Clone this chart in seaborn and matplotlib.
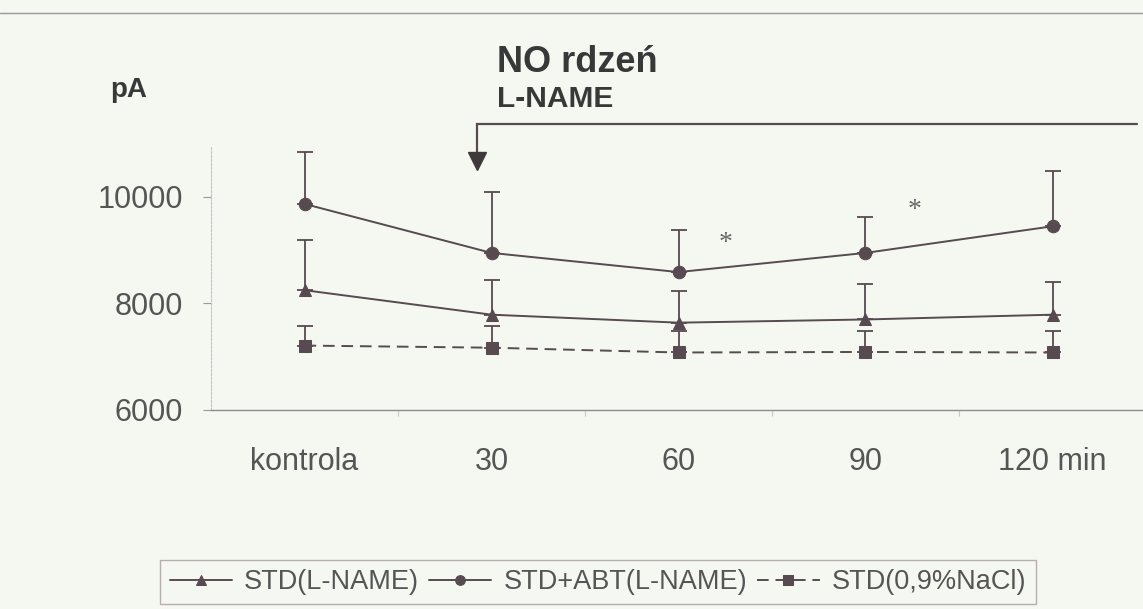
import numpy as np
import pandas as pd
import matplotlib
matplotlib.use("Agg")
import matplotlib.pyplot as plt
from matplotlib.lines import Line2D
import seaborn as sns

# --- data -------------------------------------------------------------
categories = ["kontrola", "30", "60", "90", "120"]
tick_labels = ["kontrola", "30", "60", "90", "120 min"]
series_names = ["STD(L-NAME)", "STD+ABT(L-NAME)", "STD(0,9%NaCl)"]

std_lname = [8250, 7790, 7640, 7700, 7790]
std_lname_sd = [940, 650, 600, 670, 610]
std_abt = [9870, 8950, 8590, 8950, 9450]
std_abt_sd = [970, 1140, 790, 670, 1030]
std_nacl = [7210, 7170, 7080, 7090, 7080]
std_nacl_sd = [360, 400, 410, 400, 410]

y_ticks = [6000, 8000, 10000]

# --- styling ----------------------------------------------------------
BG = "#f5f7f1"
INK = "#574a50"
TICK_TXT = "#555555"
TITLE_TXT = "#383838"

sns.set_theme(style="white")
plt.rcParams["font.family"] = ["Liberation Sans", "DejaVu Sans"]

means = [std_lname, std_abt, std_nacl]
sds = [std_lname_sd, std_abt_sd, std_nacl_sd]
pos = np.arange(len(categories))

df = pd.DataFrame({
    "pos": np.tile(pos, len(series_names)),
    "value": np.concatenate(means),
    "series": np.repeat(series_names, len(categories)),
})

fig = plt.figure(figsize=(11.43, 6.09), dpi=100, facecolor=BG)
ax = fig.add_axes([211 / 1143, 1 - 410 / 609, (1143 - 211) / 1143, (410 - 143.75) / 609])
ax.set_facecolor(BG)

markers = {series_names[0]: "^", series_names[1]: "o", series_names[2]: "s"}
dashes = {series_names[0]: "", series_names[1]: "", series_names[2]: (6, 3.5)}
sns.lineplot(data=df, x="pos", y="value", hue="series", style="series",
             hue_order=series_names, style_order=series_names,
             palette=[INK] * 3, markers=markers, dashes=dashes,
             markersize=9, markeredgecolor=INK, linewidth=1.4,
             ax=ax, legend=True, zorder=3)

# upward standard deviation bars
for m, s in zip(means, sds):
    ax.errorbar(pos, m, yerr=[np.zeros(len(s)), s], fmt="none",
                ecolor=INK, elinewidth=1.3, capsize=5.8, capthick=1.3, zorder=2)

# axes
ax.set_xlim(-0.5, (1143 - 304.5) / 187)
ax.set_ylim(6000, 11000)
ax.set_yticks(y_ticks)
ax.set_yticklabels([str(v) for v in y_ticks])
ax.set_xticks(pos)
ax.set_xticklabels(tick_labels)
ax.set_xticks(pos[:-1] + 0.5, minor=True)
ax.set_xlabel("")
ax.set_ylabel("")
ax.tick_params(axis="y", which="major", direction="out", length=6, width=0.8,
               color="#9a9a9a", labelsize=22, labelcolor=TICK_TXT, pad=14, left=True)
ax.tick_params(axis="x", which="major", length=0, labelsize=22,
               labelcolor=TICK_TXT, pad=27)
ax.tick_params(axis="x", which="minor", direction="out", length=4, width=0.8,
               color="#c8c8c8", bottom=True)
for side in ("top", "right"):
    ax.spines[side].set_visible(False)
ax.spines["bottom"].set_color("#8c8c8c")
ax.spines["bottom"].set_linewidth(1.0)
ax.spines["left"].set_color("#c4c4c4")
ax.spines["left"].set_linewidth(0.8)
ax.spines["left"].set_linestyle((0, (2, 1.5)))
ax.spines["left"].set_bounds(6000, 10940)

# significance marks
for xs, ys in [(2.25, 9130), (3.26, 9750)]:
    ax.text(xs, ys, "*", fontsize=20, color="#666666", ha="center", va="center",
            family=["Liberation Serif", "DejaVu Serif"])

# L-NAME administration bracket with arrow
ax.plot([0.922, 0.922, 4.452], [10850, 11371, 11371], color=INK, lw=1.6,
        clip_on=False, solid_joinstyle="miter")
ax.plot([0.922], [10676], marker="v", markersize=13, color="#3e3a3c",
        clip_on=False, linestyle="none")

# titles
fig.text(497 / 1143, 1 - 72 / 609, "NO rdzeń", fontsize=26, fontweight="bold",
         color=TITLE_TXT, ha="left", va="baseline")
fig.text(497 / 1143, 1 - 107 / 609, "L-NAME", fontsize=21.5, fontweight="bold",
         color=TITLE_TXT, ha="left", va="baseline")
fig.text(110 / 1143, 1 - 97 / 609, "pA", fontsize=20, fontweight="bold",
         color=TITLE_TXT, ha="left", va="baseline")

# page rule at the top
fig.add_artist(Line2D([0, 1], [1 - 13 / 609] * 2, color="#9a9a9a", lw=1.0))

# legend below the chart
handles, labels = ax.get_legend_handles_labels()
ax.get_legend().remove()
for h in handles:
    h.set_markersize(7)
leg = fig.legend(handles, labels, loc="center", bbox_to_anchor=(598 / 1143, 1 - 582 / 609),
                 ncol=3, frameon=True, fancybox=False, fontsize=19.5,
                 handlelength=2.3, handletextpad=0.45, columnspacing=0.37,
                 borderpad=0.35, borderaxespad=0, facecolor=BG, edgecolor="#a89ca0")
leg.get_frame().set_linewidth(1.0)
for t in leg.get_texts():
    t.set_color(TICK_TXT)

fig.savefig("out.png", dpi=100, facecolor=BG)
